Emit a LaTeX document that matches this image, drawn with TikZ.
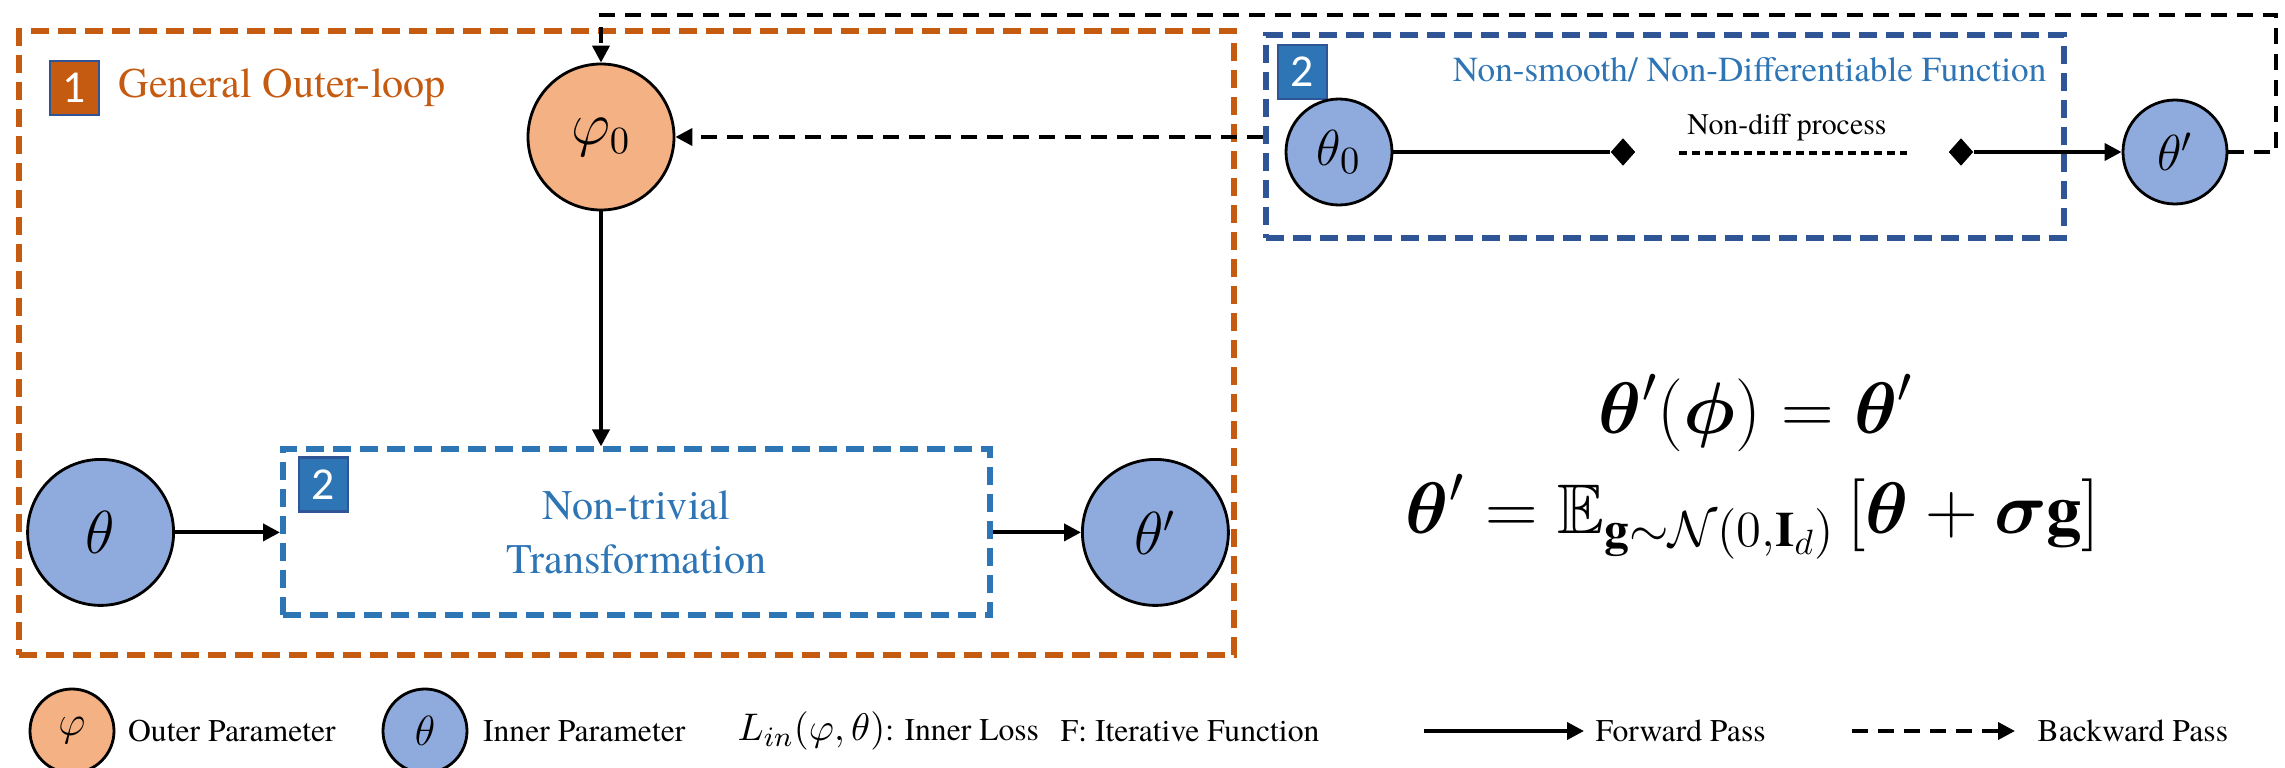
\documentclass[tikz,border=0pt]{standalone}
\usepackage{amsmath,amssymb}
\usepackage{fontspec}
\setmainfont{TeX Gyre Termes}
\newfontfamily\badgefont{Carlito}
\usetikzlibrary{shapes.geometric, arrows.meta, positioning, fit, calc}

\definecolor{outerorange}{RGB}{197,90,17}
\definecolor{phifill}{RGB}{244,177,131}
\definecolor{thetafill}{RGB}{143,170,220}
\definecolor{darkblue}{RGB}{47,85,151}
\definecolor{midblue}{RGB}{46,117,182}

\begin{document}
\begin{tikzpicture}[
    node distance=1cm,
    param/.style={circle, draw=black, line width=0.8pt, minimum size=1.46cm, inner sep=0pt, font=\fontsize{16}{16}\selectfont},
    outerp/.style={param, fill=phifill},
    innerp/.style={param, fill=thetafill},
    badge/.style={rectangle, draw=darkblue, line width=0.6pt, minimum width=4.9mm, minimum height=5.4mm, inner sep=0pt, text=white, font=\badgefont\fontsize{13}{13}\selectfont},
    dashbox/.style={rectangle, line width=0.6mm, dash pattern=on 1.8mm off 0.9mm},
    knot/.style={diamond, fill=black, inner sep=0pt, minimum width=2.5mm, minimum height=2.8mm},
    arrow/.style={line width=1.1pt, -{Triangle[length=1.7mm, width=1.7mm]}},
    back/.style={arrow, line width=1.1pt, dash pattern=on 1.6mm off 1mm},
    legend/.style={font=\fontsize{9}{11}\selectfont, anchor=west, inner sep=0pt}
]
\useasboundingbox (0,0) rectangle (22.85,7.67);

% Outer loop
\node[dashbox, draw=outerorange, minimum width=12.15cm, minimum height=6.24cm] (outer) at (6.265,4.24) {};
\node[badge, fill=outerorange] (one) at (0.745,6.79) {1};
\node[right=1.8mm of one, inner sep=0pt, text=outerorange, font=\fontsize{12}{14}\selectfont] (outertitle) {General Outer-loop};

\node[outerp] (phi0) at (6.01,6.30) {$\varphi_0$};
\node[dashbox, draw=midblue, minimum width=7.07cm, minimum height=1.66cm, below=2.35cm of phi0, xshift=3.55mm,
      align=center, text=midblue, font=\fontsize{12}{15.4}\selectfont] (trans) {Non-trivial\\Transformation};
\node[badge, fill=midblue, anchor=north west] (two) at ($(trans.north west)+(1.8mm,-1mm)$) {2};
\node[innerp, left=1.05cm of trans] (theta) {$\theta$};
\node[innerp, right=0.88cm of trans] (thetap) {$\theta'$};

% Non-smooth part
\node[dashbox, draw=darkblue, minimum width=7.98cm, minimum height=2.03cm] (nonsmooth) at (16.65,6.305) {};
\node[badge, fill=midblue, anchor=north west] (twotop) at ($(nonsmooth.north west)+(1.4mm,-1.2mm)$) {2};
\node[anchor=east, inner sep=0pt, text=midblue, font=\fontsize{10}{12}\selectfont] (nstitle) at (20.47,6.97) {Non-smooth/ Non-Differentiable Function};
\node[innerp, minimum size=1.06cm, font=\fontsize{15}{15}\selectfont] (theta0) at (13.39,6.15) {$\theta_0$};
\node[knot] (k1) at (16.23,6.15) {};
\node[knot] (k2) at (19.61,6.15) {};
\node[inner sep=0pt, font=\fontsize{8.5}{10}\selectfont] (ndiff) at (17.87,6.39) {Non-diff process};
\coordinate (dl) at (16.79,6.14);
\coordinate (dr) at (19.07,6.14);
\node[innerp, minimum size=1.04cm, font=\fontsize{14}{14}\selectfont] (thetaout) at (21.75,6.15) {$\theta'$};
\coordinate (corner) at (22.76,7.52);

% Equations
\node[font=\fontsize{20}{24}\selectfont] (eqa) at (17.56,3.54)
  {$\boldsymbol{\theta}'(\boldsymbol{\phi}) = \boldsymbol{\theta}'$};
\node[font=\fontsize{20}{24}\selectfont] (eqb) at (17.53,2.50)
  {$\boldsymbol{\theta}' = \mathbb{E}_{\mathbf{g}\sim\mathcal{N}(0,\mathbf{I}_d)}\,[\boldsymbol{\theta} + \boldsymbol{\sigma}\mathbf{g}]$};

% Legend
\node[outerp, minimum size=0.84cm, font=\fontsize{13}{13}\selectfont] (legphi) at (0.72,0.36) {$\varphi$};
\node[legend, right=1.2mm of legphi] (legphitext) {Outer Parameter};
\node[innerp, minimum size=0.84cm, font=\fontsize{13}{13}\selectfont] (legtheta) at (4.25,0.36) {$\theta$};
\node[legend, right=1.4mm of legtheta] (legthetatext) {Inner Parameter};
\node[legend] (legloss) at (7.37,0.36) {{\fontsize{11}{11}\selectfont$L_{in}(\varphi,\theta)$}: Inner Loss};
\node[legend] (legf) at (10.60,0.36) {F: Iterative Function};
\coordinate (fwdA) at (14.24,0.36);
\coordinate (fwdB) at (15.84,0.36);
\node[legend, right=1.1mm of fwdB] (legfwd) {Forward Pass};
\coordinate (bwdA) at (18.52,0.36);
\coordinate (bwdB) at (20.15,0.36);
\node[legend, right=2.2mm of bwdB] (legbwd) {Backward Pass};

% Arrows
\draw[arrow] (phi0.south) -- (phi0.south |- trans.north);
\draw[arrow] (theta.east) -- (theta.east -| trans.west);
\draw[arrow] (trans.east) -- (thetap.west);

\draw[line width=1.1pt] (theta0.east) -- (k1.west);
\draw[line width=1pt, dash pattern=on 0.8mm off 0.5mm] (dl) -- (dr);
\draw[arrow] (k2.east) -- (thetaout.west);

\draw[back] (thetaout.east) -| (corner) -| (phi0.north);
\draw[back] (phi0 -| nonsmooth.west) -- (phi0.east);

\draw[arrow] (fwdA) -- (fwdB);
\draw[back] (bwdA) -- (bwdB);

\end{tikzpicture}
\end{document}
